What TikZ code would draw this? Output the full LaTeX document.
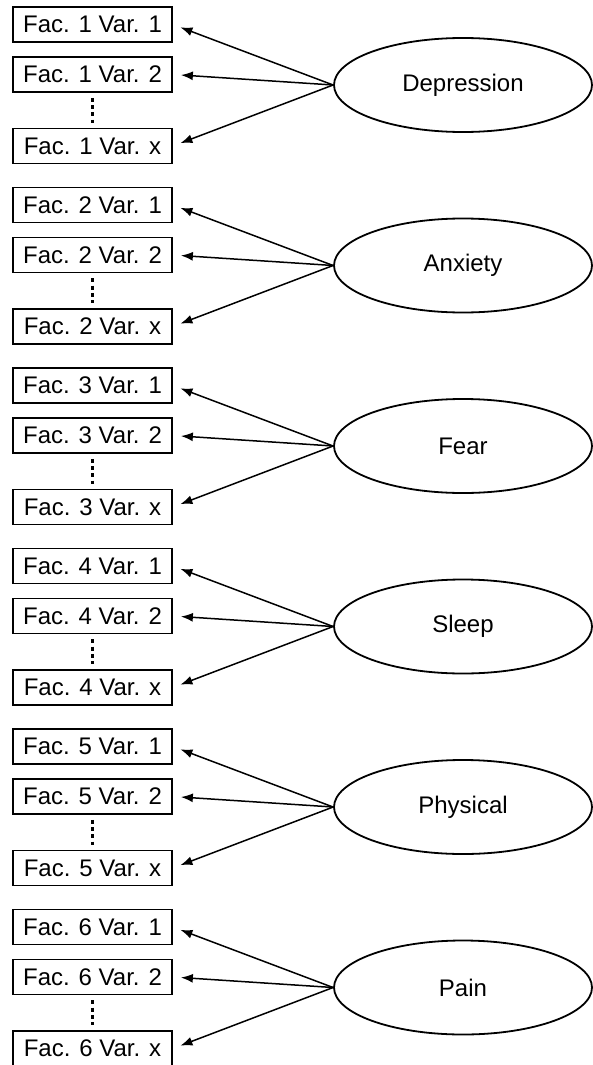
\documentclass[tikz,border=0pt]{standalone}
\usepackage{fontspec}
\setmainfont{Liberation Sans}
\usetikzlibrary{arrows.meta,calc,shapes.geometric}
\begin{document}
\begin{tikzpicture}[x=1pt,y=-1pt,
  varbox/.style={draw,line width=1.8pt,minimum width=159pt,minimum height=35pt,inner sep=0pt,font=\fontsize{24}{27}\selectfont},
  factor/.style={draw,ellipse,line width=1.8pt,minimum width=258pt,minimum height=94pt,inner sep=0pt,font=\fontsize{24}{27}\selectfont},
  load/.style={line width=1.5pt,-{Latex[length=12pt,width=9pt]},shorten >=8pt},
  vdots/.style={line width=2.6pt,dash pattern=on 4pt off 3.2pt}
]
\useasboundingbox (0,0) rectangle (592,1065);
\foreach \k/\name in {0/Depression,1/Anxiety,2/Fear,3/Sleep,4/Physical,5/Pain}{
  \pgfmathsetmacro{\dy}{180.5*\k}
  \pgfmathtruncatemacro{\n}{\k+1}
  \node[varbox] (a\n) at (92.5,24.5+\dy) {Fac. \n\ Var. 1};
  \node[varbox] (b\n) at (92.5,74.5+\dy) {Fac. \n\ Var. 2};
  \node[varbox] (x\n) at (92.5,146+\dy) {Fac. \n\ Var. x};
  \node[factor] (f\n) at (463,85+\dy) {\name};
  \draw[vdots] ($(b\n.south)+(0,5)$) -- ($(x\n.north)+(0,-5)$);
  \draw[load] (f\n.west) -- (a\n.east);
  \draw[load] (f\n.west) -- (b\n.east);
  \draw[load] (f\n.west) -- (x\n.east);
}
\end{tikzpicture}
\end{document}
